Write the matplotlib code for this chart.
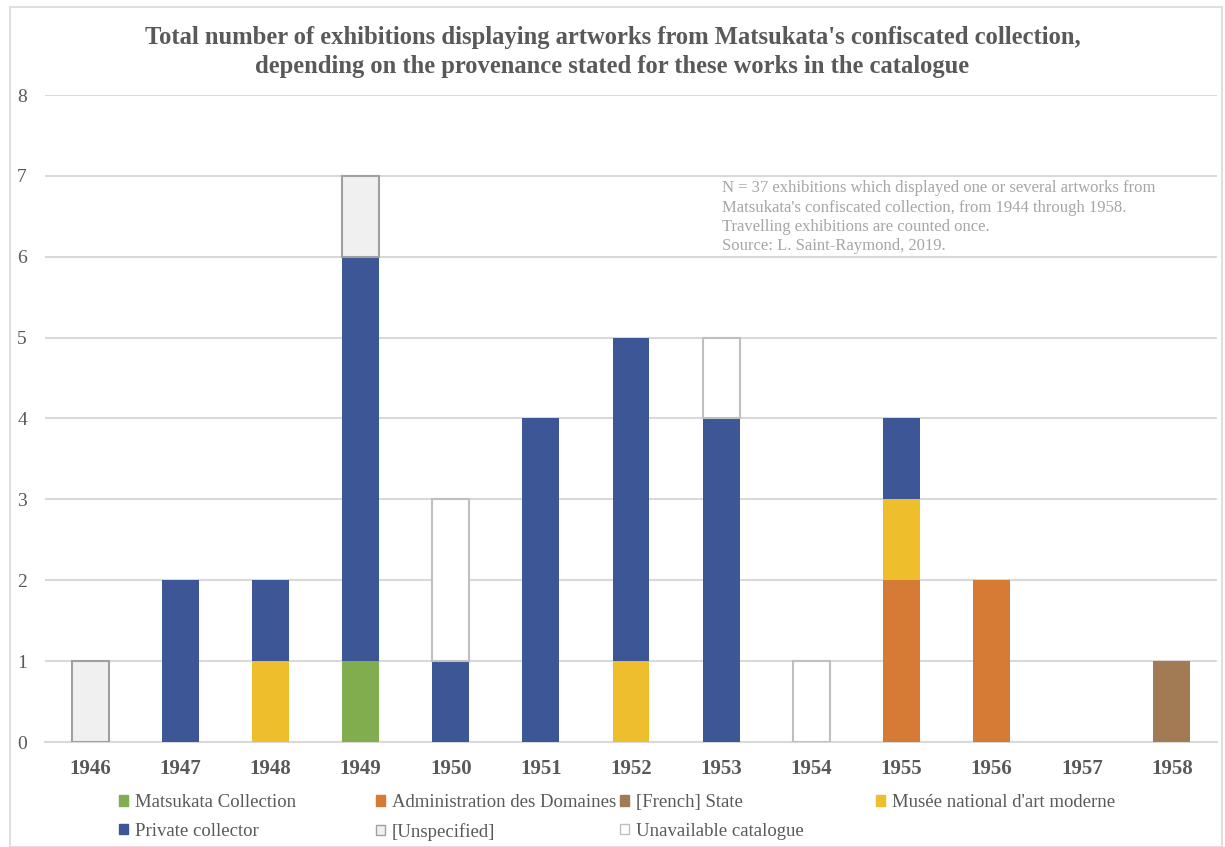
import matplotlib.pyplot as plt
from matplotlib.patches import Patch, Rectangle

years = ["1946", "1947", "1948", "1949", "1950", "1951", "1952",
         "1953", "1954", "1955", "1956", "1957", "1958"]

matsukata = [0, 0, 0, 1, 0, 0, 0, 0, 0, 0, 0, 0, 0]
domaines = [0, 0, 0, 0, 0, 0, 0, 0, 0, 2, 2, 0, 0]
state = [0, 0, 0, 0, 0, 0, 0, 0, 0, 0, 0, 0, 1]
mnam = [0, 0, 1, 0, 0, 0, 1, 0, 0, 1, 0, 0, 0]
private = [0, 2, 1, 5, 1, 4, 4, 4, 0, 1, 0, 0, 0]
unspecified = [1, 0, 0, 1, 0, 0, 0, 0, 0, 0, 0, 0, 0]
unavailable = [0, 0, 0, 0, 2, 0, 0, 1, 1, 0, 0, 0, 0]

series = [
    ("Matsukata Collection", matsukata, "#82AD4E", "#82AD4E"),
    ("Administration des Domaines", domaines, "#D57B36", "#D57B36"),
    ("[French] State", state, "#A27B55", "#A27B55"),
    ("Musée national d'art moderne", mnam, "#EFBE2C", "#EFBE2C"),
    ("Private collector", private, "#3D5796", "#3D5796"),
    ("[Unspecified]", unspecified, "#F0F0F0", "#A0A0A0"),
    ("Unavailable catalogue", unavailable, "#FFFFFF", "#BFBFBF"),
]

txt = "#595959"
plt.rcParams['font.family'] = ['Liberation Serif', 'DejaVu Serif']

fig = plt.figure(figsize=(12.25, 8.47), dpi=100)
ax = fig.add_axes([45 / 1225, 1 - 742 / 847, (1217 - 45) / 1225, (742 - 95) / 847])

x = list(range(len(years)))
bottom = [0] * len(years)
handles = {}
for name, vals, color, edge in series:
    outlined = edge != color
    lws = [1.5 if (outlined and v > 0) else 0 for v in vals]
    ax.bar(x, vals, width=0.41, bottom=bottom, color=color,
           edgecolor=edge, linewidth=lws, zorder=3)
    bottom = [b + v for b, v in zip(bottom, vals)]
    handles[name] = Patch(facecolor=color, edgecolor=edge, linewidth=1.0)

ax.set_xlim(-0.5, len(years) - 0.5)
ax.set_ylim(0, 8)
ax.set_yticks(range(0, 9))
ax.set_xticks(x)
ax.set_xticklabels(years, fontsize=15, fontweight="bold", color=txt)
ax.tick_params(axis="y", labelsize=14, labelcolor=txt, length=0, pad=13)
ax.tick_params(axis="x", length=0, pad=12)
ax.grid(axis="y", color="#D9D9D9", linewidth=1.5, zorder=0)
for s in ["top", "right", "left"]:
    ax.spines[s].set_visible(False)
ax.spines["bottom"].set_color("#D9D9D9")
ax.spines["bottom"].set_linewidth(1.5)

fig.text(0.5, 1 - 52 / 847,
         "Total number of exhibitions displaying artworks from Matsukata's confiscated collection,\n"
         "depending on the provenance stated for these works in the catalogue",
         ha="center", va="center", fontsize=17.7, fontweight="bold", color=txt,
         linespacing=1.35)

ax.text(0.578, 0.868,
        "N = 37 exhibitions which displayed one or several artworks from\n"
        "Matsukata's confiscated collection, from 1944 through 1958.\n"
        "Travelling exhibitions are counted once.\n"
        "Source: L. Saint-Raymond, 2019.",
        transform=ax.transAxes, ha="left", va="top", fontsize=12,
        color="#A6A6A6", linespacing=1.28)

# legend: four columns laid out like the original
columns = [
    (119, ["Matsukata Collection", "Private collector"]),
    (376, ["Administration des Domaines", "[Unspecified]"]),
    (620, ["[French] State", "Unavailable catalogue"]),
    (876, ["Musée national d'art moderne"]),
]
for xpos, names in columns:
    fig.legend([handles[n] for n in names], names,
               loc="upper left", bbox_to_anchor=(xpos / 1225, 1 - 794 / 847),
               frameon=False, fontsize=13.5, labelcolor=txt,
               handlelength=0.5, handleheight=0.5, handletextpad=0.35,
               borderaxespad=0, borderpad=0, labelspacing=0.62)

fig.patches.append(Rectangle((10 / 1225, 0), 1212 / 1225, 1 - 7 / 847,
                             transform=fig.transFigure, fill=False,
                             edgecolor="#D9D9D9", linewidth=1.2))

fig.savefig("out.png", dpi=100, facecolor="white")
